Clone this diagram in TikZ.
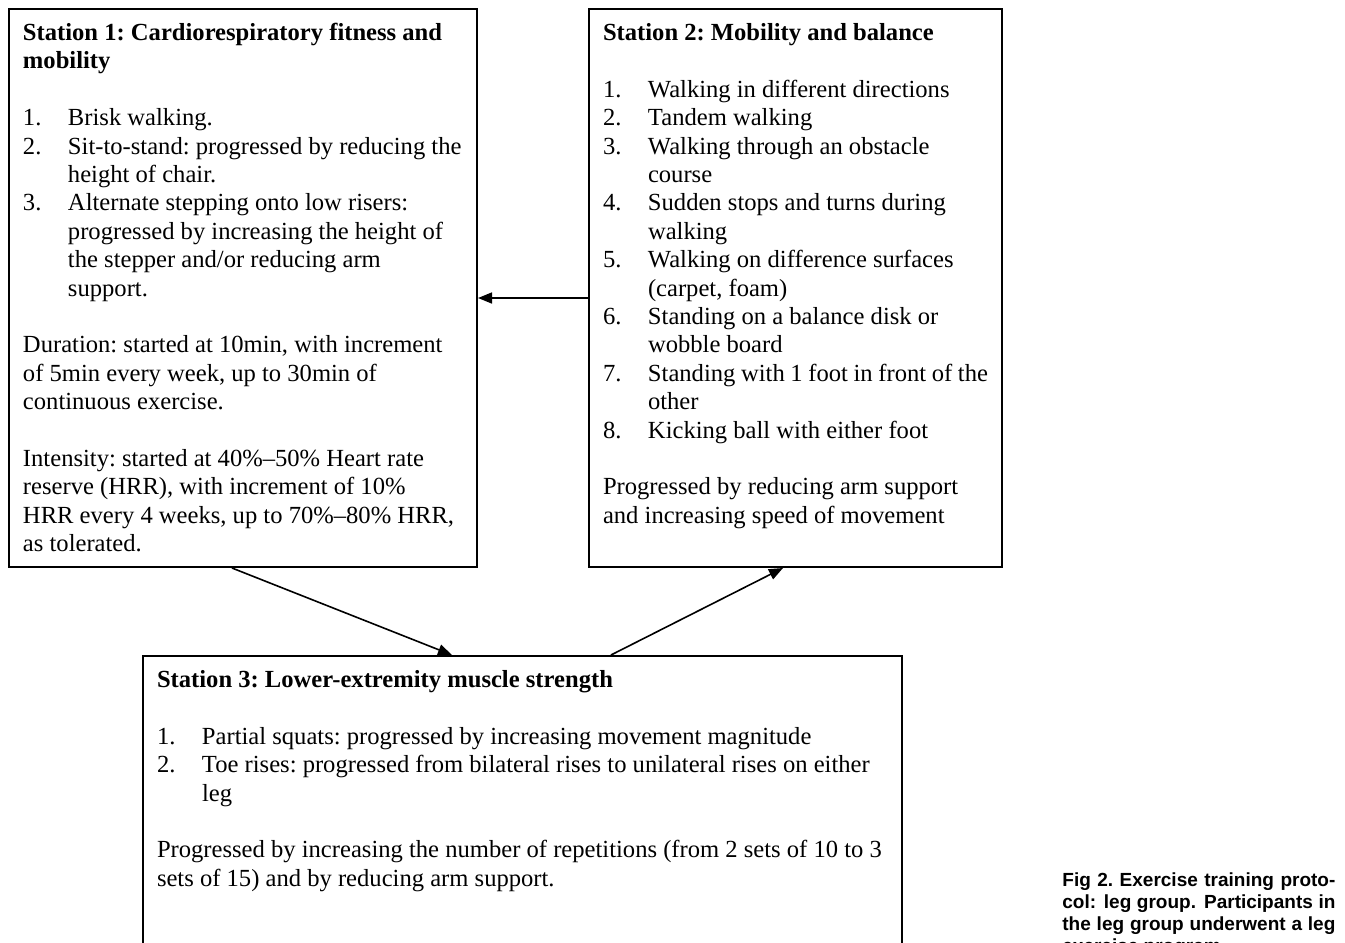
\documentclass[tikz,border=0pt]{standalone}
\usepackage{fontspec}
\setmainfont{Liberation Serif}
\newfontfamily\capfont{Liberation Sans}
\usepackage{tikz}
\usetikzlibrary{arrows.meta, calc, positioning}

\newcommand{\num}[1]{\makebox[22.5pt][l]{#1}}
\newcommand{\boxtext}[3]{\parbox[t][#2][t]{#1}{\raggedright\frenchspacing\strut #3}}

\tikzset{
  station/.style={draw, line width=1pt, anchor=north west, inner xsep=7pt, inner ysep=5.8pt,
    font=\fontsize{12.3pt}{14.2pt}\selectfont},
  flow/.style={-{Triangle[length=7pt,width=5.5pt]}, line width=0.8pt},
}

\begin{document}
\begin{tikzpicture}[x=0.5pt, y=-0.5pt]
  \useasboundingbox (0,0) rectangle (1345,943);
  \clip (0,0) rectangle (1345,943);

  \node [station] (s1) at (8,8) {\boxtext{220pt}{267.4pt}{%
    \textbf{Station 1: Cardiorespiratory fitness and}\\
    \textbf{mobility}\\[14.2pt]
    \num{1.}Brisk walking.\\
    \num{2.}Sit-to-stand: progressed by reducing the\\
    \num{}height of chair.\\
    \num{3.}Alternate stepping onto low risers:\\
    \num{}progressed by increasing the height of\\
    \num{}the stepper and/or reducing arm\\
    \num{}support.\\[14.2pt]
    Duration: started at 10min, with increment\\
    of 5min every week, up to 30min of\\
    continuous exercise.\\[14.2pt]
    Intensity: started at 40\%--50\% Heart rate\\
    reserve (HRR), with increment of 10\%\\
    HRR every 4 weeks, up to 70\%--80\% HRR,\\
    as tolerated.}};

  \node [station] (s2) at (588,8) {\boxtext{192.5pt}{267.4pt}{%
    \textbf{Station 2: Mobility and balance}\\[14.2pt]
    \num{1.}Walking in different directions\\
    \num{2.}Tandem walking\\
    \num{3.}Walking through an obstacle\\
    \num{}course\\
    \num{4.}Sudden stops and turns during\\
    \num{}walking\\
    \num{5.}Walking on difference surfaces\\
    \num{}(carpet, foam)\\
    \num{6.}Standing on a balance disk or\\
    \num{}wobble board\\
    \num{7.}Standing with 1 foot in front of the\\
    \num{}other\\
    \num{8.}Kicking ball with either foot\\[14.2pt]
    Progressed by reducing arm support\\
    and increasing speed of movement}};

  \node [station] (s3) at (142,655) {\boxtext{365.5pt}{200pt}{%
    \textbf{Station 3: Lower-extremity muscle strength}\\[14.2pt]
    \num{1.}Partial squats: progressed by increasing movement magnitude\\
    \num{2.}Toe rises: progressed from bilateral rises to unilateral rises on either\\
    \num{}leg\\[14.2pt]
    Progressed by increasing the number of repetitions (from 2 sets of 10 to 3\\
    sets of 15) and by reducing arm support.}};

  \node [anchor=north west, inner sep=0pt, text width=136.5pt, align=justify,
    font=\capfont\bfseries\fontsize{9.5pt}{11pt}\selectfont] (cap) at (1062,872)
    {Fig 2.\ Exercise training proto-\linebreak col: leg group. Participants in\linebreak
     the leg group underwent a leg\linebreak exercise program.};

  \draw [flow] ($(s2.north west)+(0,290)$) -- ($(s1.north east)+(0,290)$);
  \draw [flow] ($(s1.south west)+(224,0)$) -- ($(s3.north west)+(310,0)$);
  \draw [flow] ($(s3.north west)+(469,0)$) -- ($(s2.south west)+(195,0)$);
\end{tikzpicture}
\end{document}
